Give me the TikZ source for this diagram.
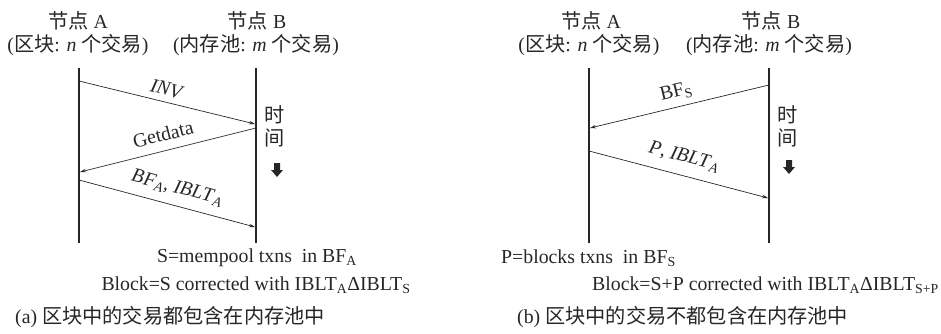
\documentclass[tikz,border=0pt]{standalone}
\usepackage{fontspec}
\setmainfont{Liberation Serif}
\newfontfamily\cjk[Scale=1.02]{Noto Sans CJK SC}
\usetikzlibrary{arrows.meta}
\newcommand{\sbs}[1]{\textsubscript{#1}}
\begin{document}
\begin{tikzpicture}[x=1pt,y=-1pt,
  every node/.style={font=\fontsize{19.8}{23}\selectfont, inner sep=1pt, text=black!85},
  life/.style={line width=1.3pt, draw=black!85},
  msg/.style={-{Stealth[length=6pt,width=3.5pt]}, line width=0.7pt, draw=black!85},
  lab/.style={midway, sloped, above=5pt},
  tarrow/.style={fill=black!85, draw=none}]
\useasboundingbox (0,0) rectangle (941,334);

% ---------- panel (a) ----------
\node (hA1) at (78,21) {{\cjk 节点} A};
\node (hA2) at (78,45) {({\cjk 区块}: \textit{n} {\cjk 个交易})};
\node (hB1) at (257,21) {{\cjk 节点} B};
\node (hB2) at (256,45) {({\cjk 内存池}: \textit{m} {\cjk 个交易})};

\coordinate (aAt) at (79,68);  \coordinate (aAb) at (79,243);
\coordinate (aBt) at (256,68); \coordinate (aBb) at (256,243);
\draw[life] (aAt) -- (aAb);
\draw[life] (aBt) -- (aBb);

\coordinate (m1s) at (79,81);   \coordinate (m1e) at (255,124);
\coordinate (m2s) at (256,128); \coordinate (m2e) at (80,172);
\coordinate (m3s) at (79,180);  \coordinate (m3e) at (255,227);
\draw[msg] (m1s) -- node[lab, xshift=-3pt] (l1) {\textit{INV}} (m1e);
\draw[msg] (m2s) -- node[lab, xshift=-1pt, above=3pt] (l2) {Getdata} (m2e);
\draw[msg] (m3s) -- node[lab, xshift=6pt, above=3pt] (l3) {\textit{BF}\sbs{\textit{A}}, \textit{IBLT}\sbs{\textit{A}}} (m3e);

\node (ta1) at (275,115) {\cjk 时};
\node (ta2) at (275,138) {\cjk 间};
\fill[tarrow] (274,163) -- (280,163) -- (280,170) -- (283,170) -- (277,177) -- (271,170) -- (274,170) -- cycle;

\node (sa) at (257,258) {S=mempool txns\ \ in BF\sbs{A}};
\node (ba) at (256,285) {Block=S corrected with IBLT\sbs{A}ΔIBLT\sbs{S}};
\node[anchor=west] (ca) at (14,317) {(a) {\cjk 区块中的交易都包含在内存池中}};

% ---------- panel (b) ----------
\node (hC1) at (591,21) {{\cjk 节点} A};
\node (hC2) at (589,45) {({\cjk 区块}: \textit{n} {\cjk 个交易})};
\node (hD1) at (771,21) {{\cjk 节点} B};
\node (hD2) at (769,45) {({\cjk 内存池}: \textit{m} {\cjk 个交易})};

\coordinate (bAt) at (589,68);  \coordinate (bAb) at (589,243);
\coordinate (bBt) at (769,68);  \coordinate (bBb) at (769,243);
\draw[life] (bAt) -- (bAb);
\draw[life] (bBt) -- (bBb);

\coordinate (n1s) at (769,85);  \coordinate (n1e) at (590,128);
\coordinate (n2s) at (589,151); \coordinate (n2e) at (768,198);
\draw[msg] (n1s) -- node[lab, xshift=0pt] (k1) {BF\sbs{S}} (n1e);
\draw[msg] (n2s) -- node[lab, xshift=1pt, above=4pt] (k2) {\textit{P}, \textit{IBLT}\sbs{\textit{A}}} (n2e);

\node (tb1) at (788,115) {\cjk 时};
\node (tb2) at (788,138) {\cjk 间};
\fill[tarrow] (786,160) -- (792,160) -- (792,167) -- (795,167) -- (789,174) -- (783,167) -- (786,167) -- cycle;

\node[anchor=west] (sb) at (500,258) {P=blocks txns\ \ in BF\sbs{S}};
\node[anchor=east] (bb) at (940,285) {Block=S+P corrected with IBLT\sbs{A}ΔIBLT\sbs{S+P}};
\node[anchor=west] (cb) at (516,317) {(b) {\cjk 区块中的交易不都包含在内存池中}};
\end{tikzpicture}
\end{document}
